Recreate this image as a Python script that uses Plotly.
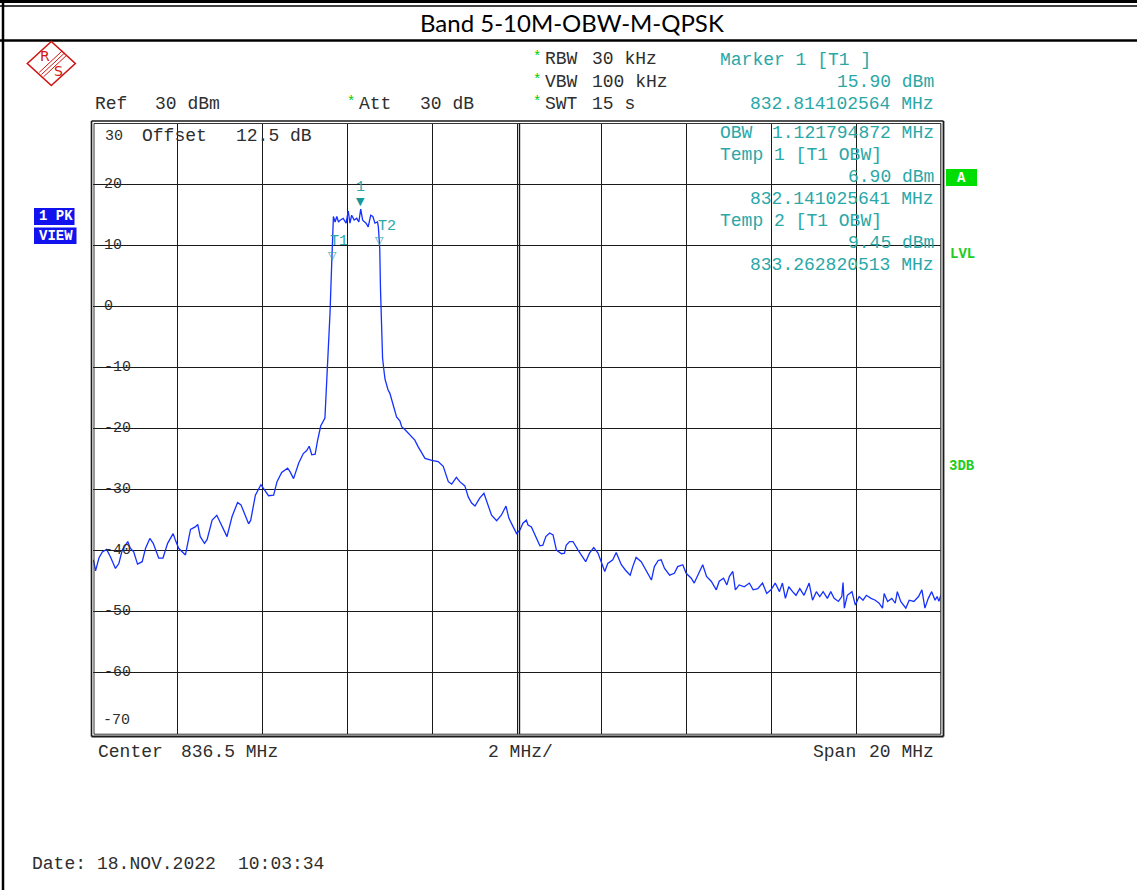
import plotly.graph_objects as go

# ---------------- data ----------------
freq_mhz = [
    826.50, 826.52, 826.56, 826.64, 826.72, 826.82, 826.91, 827.03, 827.11, 827.19,
    827.32, 827.38, 827.46, 827.55, 827.66, 827.74, 827.84, 827.92, 828.05, 828.15,
    828.26, 828.39, 828.44, 828.52, 828.68, 828.72, 828.80, 828.91, 828.97, 829.03,
    829.13, 829.19, 829.31, 829.42, 829.54, 829.66, 829.78, 829.91, 829.99, 830.09,
    830.17, 830.22, 830.33, 830.46, 830.56, 830.64, 830.76, 830.84, 830.95, 831.09,
    831.15, 831.23, 831.35, 831.46, 831.54, 831.60, 831.66, 831.74, 831.79, 831.87,
    831.97, 832.01, 832.05, 832.09, 832.13, 832.17, 832.21, 832.25, 832.29, 832.33,
    832.40, 832.47, 832.52, 832.56, 832.60, 832.66, 832.72, 832.77, 832.814, 832.86,
    832.94, 832.99, 833.05, 833.10, 833.15, 833.21, 833.23, 833.263, 833.28, 833.30,
    833.33, 833.37, 833.39, 833.46, 833.50, 833.57, 833.62, 833.66, 833.74, 833.78,
    833.86, 833.90, 834.02, 834.09, 834.17, 834.21, 834.33, 834.49, 834.64, 834.76,
    834.88, 834.96, 835.07, 835.15, 835.27, 835.35, 835.43, 835.51, 835.62, 835.72,
    835.78, 835.90, 836.02, 836.13, 836.24, 836.31, 836.41, 836.49, 836.57, 836.64,
    836.72, 836.76, 836.84, 836.94, 837.04, 837.11, 837.18, 837.27, 837.35, 837.43,
    837.55, 837.62, 837.66, 837.74, 837.82, 837.94, 838.12, 838.21, 838.31, 838.41,
    838.57, 838.64, 838.76, 838.84, 838.96, 839.06, 839.17, 839.23, 839.31, 839.43,
    839.55, 839.67, 839.74, 839.83, 839.90, 839.98, 840.10, 840.21, 840.29, 840.41,
    840.49, 840.61, 840.68, 840.79, 840.88, 840.97, 841.08, 841.20, 841.27, 841.37,
    841.45, 841.51, 841.59, 841.65, 841.74, 841.86, 841.98, 842.07, 842.18, 842.29,
    842.39, 842.49, 842.59, 842.69, 842.76, 842.83, 842.91, 843.00, 843.08, 843.17,
    843.27, 843.39, 843.47, 843.56, 843.64, 843.72, 843.82, 843.90, 843.98, 844.08,
    844.16, 844.19, 844.22, 844.29, 844.40, 844.48, 844.57, 844.66, 844.74, 844.85,
    844.95, 845.04, 845.12, 845.16, 845.24, 845.34, 845.42, 845.47, 845.55, 845.67,
    845.75, 845.86, 845.97, 846.05, 846.12, 846.20, 846.28, 846.36, 846.41, 846.45,
    846.50,
]
level_dbm = [
    -41.5, -41.8, -43.3, -41.2, -40.2, -39.8, -41.0, -42.9, -42.1, -39.9,
    -38.5, -39.6, -40.2, -42.2, -41.8, -39.6, -38.0, -38.8, -41.2, -41.2,
    -38.8, -37.2, -38.2, -39.6, -40.7, -39.3, -36.5, -36.1, -35.7, -37.7,
    -38.8, -38.2, -35.0, -34.2, -36.1, -37.7, -34.4, -32.1, -32.5, -34.4,
    -35.6, -35.0, -30.9, -29.2, -30.3, -31.0, -30.9, -28.7, -27.2, -26.5,
    -27.1, -28.2, -25.7, -24.1, -23.6, -22.9, -24.3, -24.2, -22.2, -19.6,
    -18.3, -13.2, -8.2, -1.1, 7.0, 14.7, 13.8, 14.7, 13.8, 14.1,
    14.4, 13.6, 15.6, 13.6, 14.9, 14.1, 14.4, 13.8, 15.9, 14.1,
    13.6, 13.0, 14.9, 14.7, 13.6, 13.8, 13.0, 9.45, 3.0, -4.0,
    -8.5, -11.0, -12.0, -13.7, -14.2, -15.9, -17.0, -18.1, -18.8, -19.7,
    -20.2, -20.5, -21.5, -21.9, -23.0, -23.5, -24.9, -25.2, -25.4, -26.2,
    -28.7, -29.1, -28.0, -28.7, -29.4, -31.2, -32.2, -32.7, -31.4, -30.6,
    -31.7, -34.2, -35.1, -34.2, -32.7, -34.7, -36.1, -37.2, -36.6, -35.5,
    -35.0, -35.8, -36.1, -37.7, -39.2, -39.1, -37.7, -37.1, -37.4, -39.9,
    -40.5, -40.4, -39.1, -38.5, -38.5, -39.9, -41.8, -40.4, -39.5, -40.4,
    -43.4, -42.1, -41.5, -40.3, -42.3, -43.2, -44.0, -42.6, -41.1, -41.8,
    -43.2, -44.8, -42.6, -41.6, -41.5, -42.9, -44.0, -43.7, -42.6, -42.3,
    -43.7, -44.5, -45.3, -43.7, -42.3, -44.2, -45.0, -46.4, -45.0, -44.5,
    -45.6, -44.2, -43.4, -46.4, -45.6, -45.9, -45.3, -46.4, -46.2, -45.3,
    -47.0, -46.4, -45.3, -46.7, -45.3, -47.8, -45.9, -46.7, -47.3, -46.2,
    -47.3, -45.3, -48.1, -46.7, -47.5, -46.7, -47.8, -46.7, -47.8, -48.3,
    -47.5, -45.2, -49.4, -47.3, -46.7, -48.9, -47.5, -48.1, -47.3, -47.8,
    -48.1, -48.6, -49.4, -47.0, -48.3, -47.8, -48.6, -46.7, -48.3, -49.4,
    -48.1, -48.3, -47.5, -46.4, -49.4, -47.8, -46.7, -48.1, -47.5, -48.3,
    -47.2,
]

marker_freq = [832.814102564]
marker_level = [15.90]
temp_freq = [832.141025641, 833.262820513]
temp_level = [6.90, 9.45]
y_tick_vals = [20, 10, 0, -10, -20, -30, -40, -50, -60]

title_text = "Band 5-10M-OBW-M-QPSK"
center_mhz = 836.5
span_mhz = 20
ref_level = 30
bottom_level = -70

# ---------------- layout helpers ----------------
W, H = 1137, 890
def PX(x):
    return x / W
def PY(y):
    return 1 - y / H

MONO = "Liberation Mono"
BLACK = "#2e2e2e"
TEAL = "#2aa7a7"
MTEAL = "#149898"
GREEN = "#00cc00"
BLUE_BOX = "#1212ee"

fig = go.Figure()
fig.add_trace(go.Scatter(
    x=freq_mhz, y=level_dbm, mode="lines",
    line=dict(color="#1530ff", width=1.3), hoverinfo="skip"))

x_lo = center_mhz - span_mhz / 2
x_hi = center_mhz + span_mhz / 2

fig.update_layout(
    width=W, height=H, margin=dict(l=0, r=0, t=0, b=0),
    paper_bgcolor="white", plot_bgcolor="white", showlegend=False,
    xaxis=dict(domain=[PX(93), PX(941)], range=[x_lo, x_hi],
               tickmode="linear", tick0=x_lo, dtick=span_mhz / 10,
               showgrid=True, gridcolor="#1a1a1a", gridwidth=1.4,
               showticklabels=False, zeroline=False, ticks="", showline=False),
    yaxis=dict(domain=[PY(734), PY(123)], range=[bottom_level, ref_level],
               tickmode="linear", tick0=bottom_level, dtick=10,
               showgrid=True, gridcolor="#1a1a1a", gridwidth=1.4,
               showticklabels=False, zeroline=False, ticks="", showline=False),
)

shapes = []
def pline(x0, y0, x1, y1, w=1.5, c="black"):
    shapes.append(dict(type="line", xref="paper", yref="paper",
                       x0=PX(x0), y0=PY(y0), x1=PX(x1), y1=PY(y1),
                       line=dict(color=c, width=w), layer="above"))

# document frame
pline(0, 1.5, W, 1.5, 3)
pline(0, 6, W, 6, 1.6)
pline(0, 40.5, W, 40.5, 2.5)
pline(3, 1, 3, H, 2.5)

# plot double border
pline(91.5, 121, 943.5, 121, 1.6, "#1a1a1a")
pline(91.5, 736.5, 943.5, 736.5, 1.8, "#1a1a1a")
pline(91.5, 121, 91.5, 736.5, 1.6, "#1a1a1a")
pline(943.5, 121, 943.5, 736.5, 1.8, "#1a1a1a")
pline(94, 123.5, 941, 123.5, 1.0, "#333")
pline(94, 734.2, 941, 734.2, 1.0, "#333")
pline(94, 123.5, 94, 734.2, 1.0, "#333")
pline(940.8, 123.5, 940.8, 734.2, 1.2, "#333")

# center double line
shapes.append(dict(type="line", xref="x", yref="y", xsizemode="pixel",
                   xanchor=center_mhz, x0=2.5, x1=2.5,
                   y0=bottom_level, y1=ref_level,
                   line=dict(color="#1a1a1a", width=1.4)))

# status boxes
def prect(x0, y0, x1, y1, fill):
    shapes.append(dict(type="rect", xref="paper", yref="paper",
                       x0=PX(x0), y0=PY(y0), x1=PX(x1), y1=PY(y1),
                       fillcolor=fill, line=dict(width=0), layer="above"))
prect(34, 208, 74.5, 225, BLUE_BOX)
prect(34, 227.5, 76.5, 244, BLUE_BOX)
prect(946, 169, 977, 186, "#00dd00")

# R&S logo (diamond)
cx, cy, hw, hh = 51.3, 63.5, 24, 22
shapes.append(dict(type="path", xref="paper", yref="paper",
                   path=f"M {PX(cx-hw)} {PY(cy)} L {PX(cx)} {PY(cy-hh)} L {PX(cx+hw)} {PY(cy)} L {PX(cx)} {PY(cy+hh)} Z",
                   line=dict(color="#d01515", width=1.6)))
for d in (-2.2, 0, 2.2):
    pline(41.5 + d, 74.5 + d, 64.5 + d, 53 + d, 1.0, "#d01515")

# white boxes behind the y-tick labels (above grid, below trace)
label_boxes = []
for v in y_tick_vals:
    n = len(str(v))
    label_boxes.append(dict(type="rect", xref="paper", yref="y",
                            x0=PX(101), x1=PX(101 + 9 * n + 3),
                            ysizemode="pixel", yanchor=v, y0=-7, y1=7,
                            fillcolor="white", line=dict(width=0)))
try:
    test_shapes = [dict(s, layer="between") for s in label_boxes]
    go.Figure(layout=dict(shapes=test_shapes))
    label_boxes = test_shapes
except Exception:
    label_boxes = [dict(s, layer="below") for s in label_boxes]

fig.update_layout(shapes=label_boxes + shapes)

ann = []
def txt(x, y, s, size=18, color=BLACK, anchor="left", bold=False, family=MONO):
    if bold:
        s = f"<b>{s}</b>"
    ann.append(dict(x=PX(x), y=PY(y), xref="paper", yref="paper", text=s,
                    showarrow=False, xanchor=anchor, yanchor="middle",
                    font=dict(family=family, size=size, color=color)))

# title
txt(572, 22, title_text, size=24, color="black", anchor="center", family="Lato")

# logo letters
txt(45, 56, "R", size=14, color="#d01515", anchor="center", family="DejaVu Sans")
txt(58.5, 71, "S", size=14, color="#d01515", anchor="center", family="DejaVu Sans")

# instrument settings
txt(93, 104, "Ref")
txt(153, 104, f"{ref_level} dBm")
txt(345, 102, "*", size=14, color=GREEN)
txt(357, 104, "Att")
txt(418, 104, "30 dB")
for yy, lab, val in [(59, "RBW", "30 kHz"), (82, "VBW", "100 kHz"), (104, "SWT", "15 s")]:
    txt(531, yy - 2, "*", size=14, color=GREEN)
    txt(543, yy, lab)
    txt(590, yy, val)

# marker readouts
obw = temp_freq[1] - temp_freq[0]
txt(718, 60, "Marker 1 [T1 ]", color=TEAL)
txt(936, 82, f"{marker_level[0]:.2f} dBm", color=TEAL, anchor="right")
txt(936, 104, f"{marker_freq[0]:.9f} MHz", color=TEAL, anchor="right")
txt(718, 133, "OBW", color=TEAL)
txt(936, 133, f"{obw:.9f} MHz", color=TEAL, anchor="right")
txt(718, 155, "Temp 1 [T1 OBW]", color=TEAL)
txt(936, 177, f"{temp_level[0]:.2f} dBm", color=TEAL, anchor="right")
txt(936, 199, f"{temp_freq[0]:.9f} MHz", color=TEAL, anchor="right")
txt(718, 221, "Temp 2 [T1 OBW]", color=TEAL)
txt(936, 243, f"{temp_level[1]:.2f} dBm", color=TEAL, anchor="right")
txt(936, 265, f"{temp_freq[1]:.9f} MHz", color=TEAL, anchor="right")

# offset line in plot
txt(140, 136, "Offset")
txt(234, 136, "12.5 dB")

# side labels
txt(36.5, 216.5, "1 PK", size=14, color="white", bold=True)
txt(36.5, 236, "VIEW", size=14, color="white", bold=True)
txt(961.5, 177.5, "A", size=14, color="white", anchor="center", bold=True)
txt(962, 254, "LVL", size=14, color="#22cc22", anchor="center", bold=True)
txt(962, 466, "3DB", size=14, color="#22cc22", anchor="center", bold=True)

# bottom texts
txt(96, 752, "Center")
txt(179, 752, f"{center_mhz} MHz")
txt(486, 752, f"{span_mhz // 10} MHz/")
txt(811, 752, "Span")
txt(936, 752, f"{span_mhz} MHz", anchor="right")
txt(30, 864, "Date:")
txt(95, 864, "18.NOV.2022")
txt(236, 864, "10:03:34")

# y tick labels inside plot
for v in y_tick_vals:
    ann.append(dict(x=PX(102), y=v, xref="paper", yref="y", text=str(v),
                    showarrow=False, xanchor="left", yanchor="middle",
                    font=dict(family=MONO, size=15, color=BLACK)))
ann.append(dict(x=PX(103), y=ref_level, xref="paper", yref="y", text=str(ref_level),
                showarrow=False, xanchor="left", yanchor="middle", yshift=-13,
                font=dict(family=MONO, size=15, color=BLACK)))
ann.append(dict(x=PX(101), y=bottom_level, xref="paper", yref="y", text=str(bottom_level),
                showarrow=False, xanchor="left", yanchor="middle", yshift=14,
                font=dict(family=MONO, size=15, color=BLACK)))

# markers
for f, l in zip(marker_freq, marker_level):
    ann.append(dict(x=f, y=l, xref="x", yref="y", text="▼", showarrow=False,
                    yanchor="bottom", yshift=-1,
                    font=dict(family="DejaVu Sans", size=11, color=MTEAL)))
    ann.append(dict(x=f, y=l, xref="x", yref="y", text="1", showarrow=False,
                    yanchor="bottom", yshift=11,
                    font=dict(family=MONO, size=15, color=TEAL)))
for i, (f, l) in enumerate(zip(temp_freq, temp_level)):
    ann.append(dict(x=f, y=l, xref="x", yref="y", text="▽", showarrow=False,
                    yanchor="bottom", yshift=0,
                    font=dict(family="DejaVu Sans", size=11, color=TEAL)))
    ann.append(dict(x=f, y=l, xref="x", yref="y", text=f"T{i+1}", showarrow=False,
                    yanchor="bottom", xshift=7, yshift=12,
                    font=dict(family=MONO, size=15, color=TEAL)))

fig.update_layout(annotations=ann)
fig.write_html("out.html",
               config={"displayModeBar": False},
               post_script="document.body.style.margin='0';document.body.style.padding='0';")
